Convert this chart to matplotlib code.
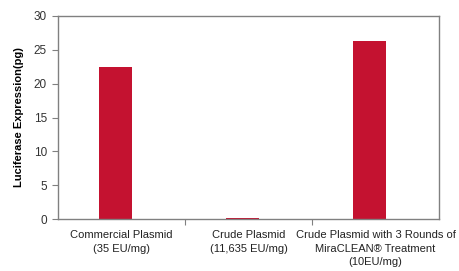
import matplotlib
matplotlib.use("Agg")
import matplotlib.pyplot as plt

# Chart data
categories = ["Commercial Plasmid\n(35 EU/mg)",
              "Crude Plasmid\n(11,635 EU/mg)",
              "Crude Plasmid with 3 Rounds of\nMiraCLEAN\u00ae Treatment\n(10EU/mg)"]
expression = [22.4, 0.15, 26.3]
yticks = [0, 5, 10, 15, 20, 25, 30]

plt.rcParams['font.family'] = ['Liberation Sans', 'DejaVu Sans']

fig = plt.figure(figsize=(4.6, 2.71), dpi=100)
ax = fig.add_axes([58 / 460, 1 - 219.3 / 271, 381 / 460, 203.5 / 271])

positions = list(range(len(categories)))
ax.bar([p - 0.05 for p in positions], expression, width=0.26, color="#C41230", zorder=2)

ax.set_xlim(-0.5, len(categories) - 0.5)
ax.set_ylim(0, 30)
ax.set_yticks(yticks)
ax.tick_params(axis="y", direction="out", length=4, width=0.8, color="#808080",
               labelsize=8.5, labelcolor="#333333", pad=4)

# Major ticks at category boundaries, labels at category centres
ax.set_xticks([p + 0.5 for p in positions[:-1]])
ax.set_xticklabels([])
ax.tick_params(axis="x", which="major", direction="out", length=4, width=0.8, color="#808080")
ax.set_xticks(positions, minor=True)
ax.set_xticklabels(categories, minor=True, fontsize=8, color="#222222", linespacing=1.4)
ax.tick_params(axis="x", which="minor", length=0, pad=8)

for side in ["left", "right", "top", "bottom"]:
    ax.spines[side].set_color("#808080")
    ax.spines[side].set_linewidth(1.0)

ax.set_ylabel("Luciferase Expression(pg)", fontsize=8, fontweight="bold", labelpad=7)

fig.savefig("out.png", dpi=100)
